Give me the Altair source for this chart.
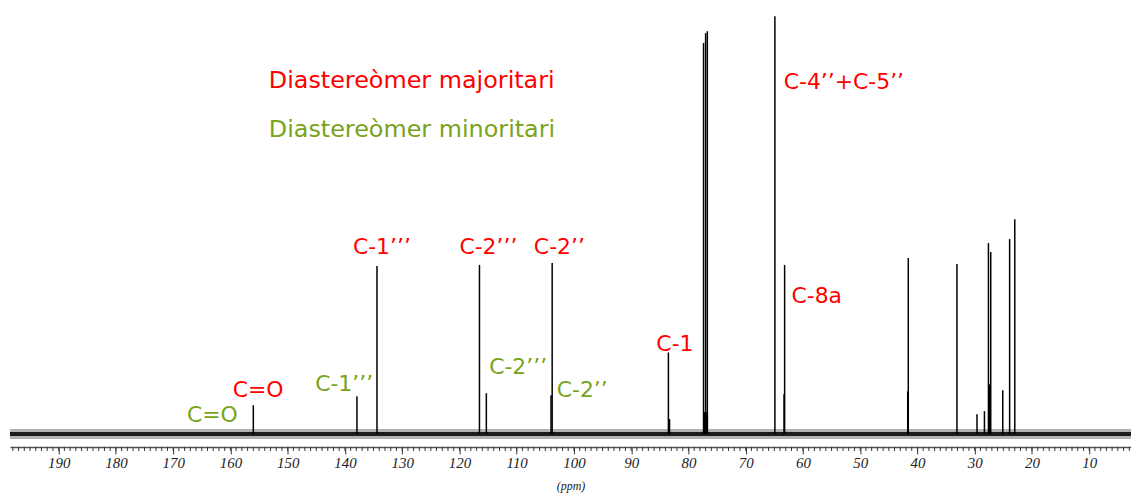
import altair as alt
import pandas as pd

# ---- data (13C NMR spectrum) ----
peak_ppm = [156.0, 137.9, 134.4, 116.5, 115.3, 104.0, 103.8, 83.5, 83.3,
            77.36, 77.0, 76.7, 64.9, 63.3, 63.2, 41.7, 41.6, 33.1,
            29.6, 28.3, 27.6, 27.4, 27.2, 25.1, 23.9, 23.0]
peak_int = [29, 38, 169, 170, 41, 39, 172, 82, 15,
            393, 403, 405, 420, 40, 170, 43, 177, 171,
            20, 23, 192, 50, 183, 44, 196, 216]

broad_ppm = [77.0]
broad_int = [22]

# baseline noise envelope (outer spikes and dense core)
noise_ppm = [198.5, 150, 100, 50, 2.7]
outer_lo = [-5, -5, -5, -5, -5]
outer_hi = [5, 5, 5, 5, 5]
inner_lo = [-2, -2, -2, -2, -2]
inner_hi = [2, 2, 2, 2, 2]

major_ticks = [190, 180, 170, 160, 150, 140, 130, 120, 110, 100,
               90, 80, 70, 60, 50, 40, 30, 20, 10]
minor_ticks = list(range(3, 199))

RED = "#ff0000"
GREEN = "#79a31b"

label_text = ["Diastereòmer majoritari", "Diastereòmer minoritari",
              "C-4’’+C-5’’", "C=O", "C=O", "C-1’’’", "C-2’’’", "C-2’’",
              "C-8a", "C-1", "C-1’’’", "C-2’’’", "C-2’’"]
label_ppm = [153.3, 153.3, 63.35, 159.6, 167.6, 138.6, 120.0, 107.0,
             62.0, 85.6, 145.2, 114.8, 103.0]
label_int = [348, 299, 347, 37, 12, 181, 181, 181, 132, 83, 43, 60, 37]
label_color = [RED, GREEN, RED, RED, GREEN, RED, RED, RED, RED, RED,
               GREEN, GREEN, GREEN]
label_size = [24, 24, 22, 22, 22, 22, 22, 22, 22, 22, 22, 22, 22]

peaks = pd.DataFrame({"ppm": peak_ppm, "int": peak_int})
broad = pd.DataFrame({"ppm": broad_ppm, "int": broad_int})
noise = pd.DataFrame({"ppm": noise_ppm, "olo": outer_lo, "ohi": outer_hi,
                      "ilo": inner_lo, "ihi": inner_hi})
minors = pd.DataFrame({"ppm": minor_ticks})
labels = pd.DataFrame({"text": label_text, "ppm": label_ppm, "int": label_int,
                       "color": label_color, "size": label_size})

xscale = alt.Scale(domain=[198.5, 2.7], nice=False, zero=False)
yscale = alt.Scale(domain=[-13, 427], nice=False, zero=False)

xaxis = alt.Axis(
    values=major_ticks,
    tickSize=7,
    tickColor="#333333",
    tickWidth=1,
    domainColor="#555555",
    domainWidth=1.5,
    labelFont="Liberation Serif",
    labelFontStyle="italic",
    labelFontSize=15,
    labelColor="#222222",
    labelPadding=2,
    labelOverlap=False,
    labelFlush=False,
    grid=False,
    title="(ppm)",
    titleFont="Liberation Serif",
    titleFontStyle="italic",
    titleFontWeight="normal",
    titleFontSize=12,
    titleColor="#222222",
    titlePadding=10,
)

outer = alt.Chart(noise).mark_area(color="black", opacity=0.3).encode(
    x=alt.X("ppm:Q", scale=xscale, axis=xaxis),
    y=alt.Y("olo:Q", scale=yscale, axis=None),
    y2="ohi:Q",
)

inner = alt.Chart(noise).mark_area(color="black", opacity=0.85).encode(
    x=alt.X("ppm:Q", scale=xscale),
    y=alt.Y("ilo:Q", scale=yscale, axis=None),
    y2="ihi:Q",
)

minor_marks = alt.Chart(minors).mark_rule(color="#333333", strokeWidth=1).encode(
    x=alt.X("ppm:Q", scale=xscale),
    y=alt.value(440),
    y2=alt.value(444),
)

rules = alt.Chart(peaks).mark_rule(color="black", strokeWidth=1.5).encode(
    x=alt.X("ppm:Q", scale=xscale),
    y=alt.Y("int:Q", scale=yscale, axis=None),
    y2=alt.datum(0),
)

broad_rules = alt.Chart(broad).mark_rule(color="black", strokeWidth=5).encode(
    x=alt.X("ppm:Q", scale=xscale),
    y=alt.Y("int:Q", scale=yscale, axis=None),
    y2=alt.datum(0),
)

texts = alt.Chart(labels).mark_text(
    align="left", baseline="alphabetic", font="DejaVu Sans"
).encode(
    x=alt.X("ppm:Q", scale=xscale),
    y=alt.Y("int:Q", scale=yscale, axis=None),
    text="text:N",
    color=alt.Color("color:N", scale=None),
    size=alt.Size("size:Q", scale=None),
)

chart = alt.layer(outer, inner, minor_marks, rules, broad_rules, texts).properties(
    width=1127,
    height=440,
    autosize=alt.AutoSizeParams(type="none"),
    padding={"left": 2, "top": 0, "right": 0, "bottom": 45},
    background="white",
).configure_view(stroke=None)

chart.save("out.html", embed_options={"renderer": "svg", "actions": False})
